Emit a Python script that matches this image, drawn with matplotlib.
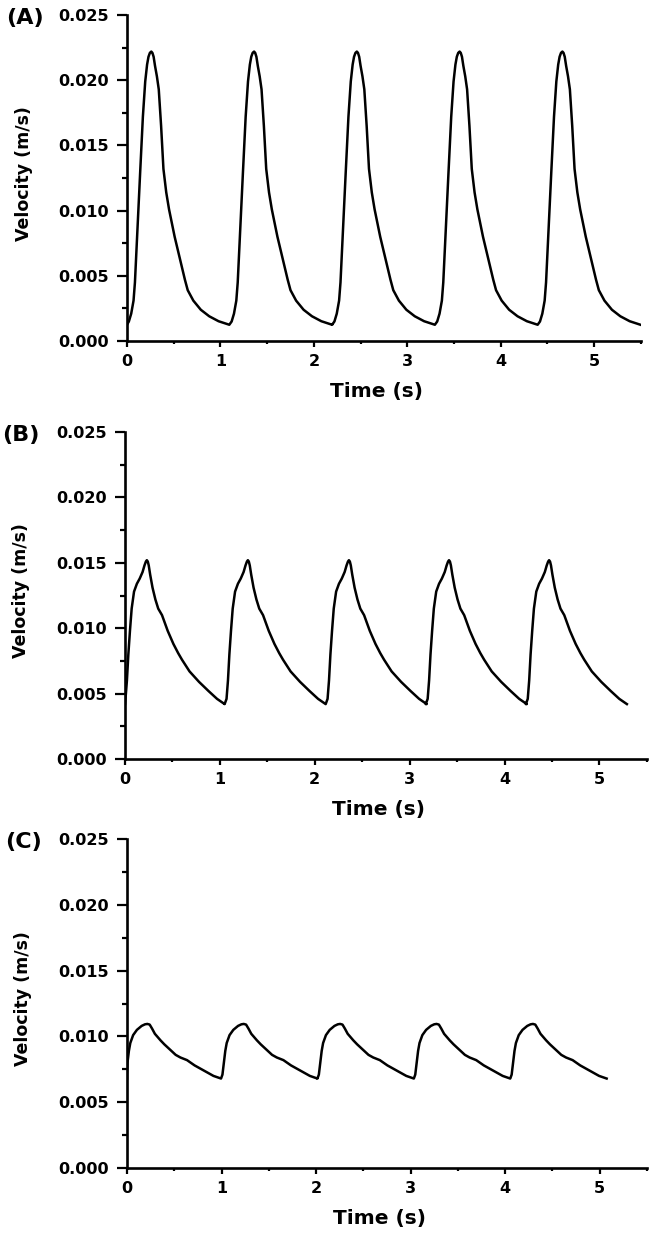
import numpy as np
import matplotlib
matplotlib.use("Agg")
import matplotlib.pyplot as plt
from matplotlib.ticker import MultipleLocator, FormatStrFormatter

plt.rcParams['font.family'] = ['DejaVu Sans']
plt.rcParams['font.weight'] = 'bold'

# Panel A: peak times (s) and one cycle shape (time rel. to peak, velocity m/s)
a_peaks = [0.26, 1.36, 2.46, 3.56, 4.66]
a_rel = [-0.265, -0.24, -0.215, -0.19, -0.175, -0.16, -0.145, -0.12, -0.09, -0.065,
         -0.045, -0.03, -0.015, 0.0, 0.012, 0.025, 0.04, 0.06, 0.08, 0.105, 0.13, 0.16,
         0.19, 0.25, 0.31, 0.36, 0.39, 0.45, 0.53, 0.62, 0.72, 0.835]
a_vel = [0.00125, 0.0015, 0.0021, 0.0031, 0.0045, 0.0068, 0.0090, 0.0128, 0.0172, 0.0199,
         0.0212, 0.0218, 0.0221, 0.0222, 0.0221, 0.0218, 0.0211, 0.0203, 0.0193, 0.0165,
         0.0132, 0.0114, 0.0101, 0.0080, 0.0062, 0.0047, 0.0039, 0.0031, 0.0024, 0.0019,
         0.00152, 0.00125]

# Panel B
b_peaks = [0.23, 1.295, 2.36, 3.415, 4.47]
b_rel = [-0.245, -0.225, -0.21, -0.195, -0.178, -0.16, -0.135, -0.105, -0.075, -0.045,
         -0.025, -0.01, 0.0, 0.01, 0.02, 0.035, 0.06, 0.09, 0.12, 0.16, 0.22, 0.28, 0.33,
         0.37, 0.45, 0.55, 0.65, 0.74, 0.82]
b_vel = [0.0042, 0.0046, 0.0060, 0.0080, 0.0098, 0.0115, 0.0128, 0.0134, 0.0138, 0.0143,
         0.0148, 0.0151, 0.0152, 0.0151, 0.0148, 0.0141, 0.0131, 0.0122, 0.0115, 0.0110,
         0.0098, 0.0088, 0.0081, 0.0076, 0.0067, 0.0059, 0.0052, 0.0046, 0.0042]

# Panel C
c_peaks = [0.215, 1.235, 2.255, 3.275, 4.295]
c_rel = [-0.24, -0.225, -0.21, -0.195, -0.18, -0.15, -0.11, -0.06, -0.025, 0.0, 0.025,
         0.05, 0.08, 0.14, 0.18, 0.24, 0.30, 0.35, 0.42, 0.50, 0.60, 0.70, 0.78]
c_vel = [0.0068, 0.0071, 0.0080, 0.0089, 0.0095, 0.0101, 0.0105, 0.0108, 0.01092, 0.01095,
         0.0109, 0.0106, 0.0102, 0.0097, 0.0094, 0.0090, 0.0086, 0.0084, 0.0082, 0.0078,
         0.0074, 0.0070, 0.0068]

panels = [
    ("(A)", a_peaks, a_rel, a_vel, [0.193, 0.7234, 0.781, 0.2644]),
    ("(B)", b_peaks, b_rel, b_vel, [0.190, 0.3844, 0.793, 0.2652]),
    ("(C)", c_peaks, c_rel, c_vel, [0.193, 0.0527, 0.790, 0.2668]),
]

fig = plt.figure(figsize=(6.58, 12.33), dpi=100)

for letter, peaks, rel, vel, pos in panels:
    ax = fig.add_axes(pos)
    t = np.concatenate([p + np.array(rel) for p in peaks])
    v = np.concatenate([vel for p in peaks])
    t = np.clip(t, 0, None)
    ax.plot(t, v, color='black', lw=1.8, solid_joinstyle='round')

    ax.set_xlim(0, 5.5)
    ax.set_ylim(0, 0.025)
    ax.xaxis.set_major_locator(MultipleLocator(1))
    ax.xaxis.set_minor_locator(MultipleLocator(0.5))
    ax.yaxis.set_major_locator(MultipleLocator(0.005))
    ax.yaxis.set_minor_locator(MultipleLocator(0.0025))
    ax.yaxis.set_major_formatter(FormatStrFormatter('%.3f'))

    ax.spines['top'].set_visible(False)
    ax.spines['right'].set_visible(False)
    for s in ['left', 'bottom']:
        ax.spines[s].set_linewidth(1.9)
        ax.spines[s].set_capstyle('projecting')
    ax.tick_params(axis='y', which='major', direction='out', length=7, width=1.6,
                   pad=6, labelsize=11.5)
    ax.tick_params(axis='y', which='minor', direction='out', length=3.5, width=1.6)
    ax.tick_params(axis='x', which='major', direction='out', length=4, width=1.6,
                   pad=5, labelsize=11.5)
    ax.tick_params(axis='x', which='minor', direction='out', length=2.5, width=1.6)

    ax.set_xlabel('Time (s)', fontsize=14.5, fontweight='bold')
    ax.xaxis.set_label_coords(0.485, -0.125)
    ax.set_ylabel('Velocity (m/s)', fontsize=12.5, fontweight='bold')
    ax.yaxis.set_label_coords(-0.183, 0.515)

    ax.text(-0.235, 0.99, letter, transform=ax.transAxes, fontsize=16,
            fontweight='bold', ha='left', va='center')

fig.savefig('out.png', dpi=100)
